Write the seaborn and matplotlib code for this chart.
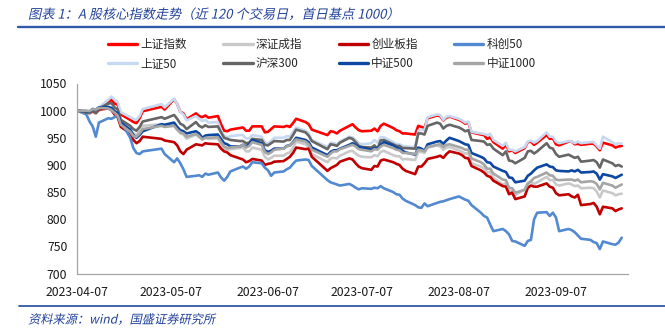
import matplotlib
matplotlib.use("Agg")
import matplotlib.pyplot as plt
import matplotlib.dates as mdates
from matplotlib.lines import Line2D
from matplotlib.patheffects import AbstractPathEffect
from matplotlib.transforms import Affine2D
import numpy as np
import pandas as pd
import seaborn as sns

# ---- data: index levels rebased to 1000 on the first trading day ----
holidays = ["2023-05-01", "2023-05-02", "2023-05-03", "2023-06-22", "2023-06-23"]
trade_days = pd.bdate_range("2023-04-07", "2023-09-28")
trade_days = trade_days[~trade_days.isin(pd.to_datetime(holidays))]

sh_index = [
    1000, 997, 995, 999, 995, 1003, 1016, 1020, 1013, 1011, 993, 983, 979, 977, 986, 999,
    1007, 1002, 1021, 1012, 998, 995, 984, 995, 990, 988, 991, 987, 990, 975, 963, 962, 965, 968, 969, 963,
    963, 971, 971, 960, 961, 966, 971, 970, 972, 970, 977, 985, 979, 975, 965, 955, 962, 961, 958, 963,
    972, 975, 969, 964, 962, 963, 967, 962, 972, 976, 968, 964, 962, 958, 958, 956, 972, 970, 968, 986, 991,
    990, 982, 987, 989, 983, 980, 976, 978, 960, 956, 955, 948, 951, 942, 930, 938, 925, 927, 922, 931, 942, 943, 937,
    941, 955, 948, 949, 938, 936, 943, 943, 938, 939, 937, 939, 939, 934, 927, 941, 936, 932, 934, 935,
]
sz_component = [
    1000, 997, 995, 998, 994, 1000, 1006, 1004, 997, 993, 976, 963, 958, 956, 962, 972,
    975, 971, 974, 966, 958, 956, 948, 956, 951, 947, 950, 948, 949, 939, 930, 928, 929, 931, 932, 925,
    925, 932, 928, 915, 910, 913, 917, 917, 921, 923, 932, 943, 938, 933, 920, 905, 912, 913, 912, 917,
    925, 926, 921, 917, 915, 914, 918, 916, 924, 926, 918, 916, 916, 910, 911, 909, 924, 924, 922, 932, 936,
    934, 928, 932, 933, 927, 924, 921, 922, 903, 897, 894, 886, 887, 876, 864, 866, 851, 852, 845, 855, 867, 869, 865,
    868, 878, 872, 872, 864, 862, 866, 864, 861, 862, 857, 858, 857, 851, 840, 853, 848, 844, 846, 847,
]
chinext = [
    1000, 998, 996, 999, 996, 1002, 1004, 1001, 993, 988, 970, 958, 946, 940, 944, 952,
    948, 945, 942, 936, 925, 920, 928, 938, 937, 936, 940, 939, 938, 930, 925, 923, 918, 912, 910, 905,
    907, 911, 908, 900, 902, 903, 906, 907, 911, 915, 922, 932, 929, 930, 915, 889, 894, 897, 900, 906,
    912, 910, 903, 897, 894, 891, 898, 897, 908, 910, 905, 902, 900, 893, 889, 883, 897, 897, 903, 911, 915,
    917, 913, 920, 925, 921, 918, 913, 912, 898, 890, 886, 880, 878, 871, 861, 860, 846, 849, 837, 842, 858, 862, 860,
    860, 866, 860, 858, 848, 844, 846, 842, 840, 845, 826, 828, 830, 823, 809, 823, 820, 815, 818, 820,
]
star50 = [
    1000, 993, 980, 971, 952, 978, 986, 985, 988, 992, 980, 950, 931, 922, 920, 925,
    930, 920, 905, 912, 903, 892, 878, 880, 881, 878, 884, 882, 886, 877, 871, 878, 888, 895, 897, 893,
    897, 905, 903, 895, 890, 880, 886, 888, 892, 895, 902, 908, 910, 909, 898, 872, 868, 866, 864, 862,
    865, 862, 858, 855, 857, 856, 858, 857, 861, 857, 850, 846, 845, 838, 834, 826, 822, 821, 829, 824, 830,
    832, 833, 835, 837, 842, 839, 836, 834, 826, 812, 806, 803, 790, 778, 782, 778, 772, 760, 759, 751, 760, 762, 800,
    812, 813, 806, 812, 803, 778, 782, 780, 776, 770, 764, 762, 758, 756, 745, 759, 754, 753, 757, 766,
]
sse50 = [
    1000, 996, 996, 1002, 998, 1006, 1020, 1026, 1020, 1016, 997, 988, 985, 983, 990, 1003,
    1012, 1006, 1022, 1012, 998, 993, 982, 990, 985, 981, 983, 978, 979, 964, 953, 951, 953, 955, 955, 949,
    949, 955, 952, 942, 939, 944, 950, 950, 953, 952, 961, 969, 963, 958, 946, 933, 941, 940, 938, 943,
    952, 951, 946, 940, 938, 940, 946, 941, 951, 951, 942, 939, 938, 935, 934, 933, 963, 965, 964, 988, 993,
    992, 983, 989, 990, 985, 982, 978, 980, 961, 958, 957, 955, 957, 946, 935, 941, 928, 928, 925, 933, 943, 945, 941,
    944, 960, 952, 952, 943, 940, 944, 943, 940, 943, 940, 942, 942, 936, 930, 952, 942, 938, 940, 939,
]
csi300 = [
    1000, 996, 996, 1000, 996, 1004, 1013, 1014, 1006, 1002, 983, 972, 966, 963, 970, 980,
    988, 985, 992, 985, 976, 973, 966, 979, 972, 969, 973, 970, 971, 960, 950, 948, 946, 944, 944, 940,
    941, 948, 946, 937, 936, 940, 944, 943, 946, 946, 955, 965, 960, 954, 944, 929, 938, 937, 935, 941,
    950, 948, 942, 935, 933, 932, 936, 930, 945, 946, 938, 935, 935, 931, 931, 930, 958, 958, 956, 972, 978,
    976, 967, 972, 974, 969, 966, 962, 964, 946, 944, 943, 937, 938, 930, 918, 925, 908, 907, 903, 913, 925, 926, 921,
    925, 940, 932, 930, 920, 915, 919, 916, 913, 915, 906, 908, 909, 905, 895, 910, 903, 898, 900, 897,
]
csi500 = [
    1000, 999, 998, 1003, 1002, 1006, 1007, 1005, 999, 995, 978, 965, 955, 950, 955, 962,
    975, 974, 978, 970, 964, 962, 958, 962, 958, 950, 954, 955, 956, 948, 940, 938, 934, 934, 937, 934,
    938, 946, 940, 927, 924, 926, 930, 930, 935, 936, 942, 950, 946, 942, 932, 918, 924, 927, 927, 930,
    937, 940, 937, 933, 932, 928, 931, 930, 937, 942, 936, 932, 930, 926, 923, 919, 932, 930, 926, 938, 943,
    944, 939, 945, 950, 944, 941, 938, 937, 922, 915, 912, 905, 904, 897, 889, 887, 877, 876, 868, 871, 880, 884, 890,
    895, 901, 897, 896, 890, 889, 888, 890, 888, 891, 886, 887, 888, 884, 873, 883, 879, 876, 879, 882,
]
csi1000 = [
    1000, 1000, 999, 1003, 1002, 1005, 1004, 1001, 996, 991, 974, 961, 953, 952, 958, 966,
    972, 970, 972, 965, 960, 958, 952, 957, 953, 947, 950, 950, 951, 942, 934, 931, 932, 934, 937, 932,
    935, 942, 937, 924, 920, 923, 928, 930, 934, 936, 941, 947, 943, 938, 928, 915, 921, 925, 925, 929,
    935, 937, 934, 929, 928, 925, 929, 928, 934, 937, 931, 928, 927, 922, 922, 920, 928, 927, 925, 933, 937,
    938, 933, 937, 938, 933, 931, 928, 928, 912, 905, 901, 893, 893, 884, 873, 872, 858, 857, 849, 854, 865, 870, 876,
    878, 886, 881, 880, 873, 872, 873, 873, 871, 873, 868, 870, 869, 865, 855, 867, 862, 858, 861, 864,
]

series_names = ["上证指数", "深证成指", "创业板指", "科创50", "上证50", "沪深300", "中证500", "中证1000"]
series_values = [sh_index, sz_component, chinext, star50, sse50, csi300, csi500, csi1000]
series_colors = ["#FF0000", "#C9C9C9", "#C00000", "#5289D0", "#C6D9F0", "#666666", "#0D47A1", "#A5A5A5"]

title_text = "图表 1：A 股核心指数走势（近 120 个交易日，首日基点 1000）"
source_text = "资料来源：wind，国盛证券研究所"
y_ticks = [700, 750, 800, 850, 900, 950, 1000, 1050]

wide = pd.DataFrame({"date": trade_days})
for name, vals in zip(series_names, series_values):
    wide[name] = vals
long = wide.melt(id_vars="date", var_name="指数", value_name="点位")


class Slant(AbstractPathEffect):
    """Shear glyph outlines to give CJK text an oblique look."""

    def __init__(self, shear=0.2):
        super().__init__()
        self._shear = shear

    def draw_path(self, renderer, gc, tpath, affine, rgbFace=None):
        shear = Affine2D(np.array([[1.0, self._shear, 0.0], [0.0, 1.0, 0.0], [0.0, 0.0, 1.0]]))
        renderer.draw_path(gc, tpath, shear + affine, rgbFace)


sns.set_style("white")
plt.rcParams["font.family"] = ["Noto Sans CJK SC", "DejaVu Sans"]
plt.rcParams["axes.unicode_minus"] = False

W, H = 665, 330
fig = plt.figure(figsize=(W / 100, H / 100), dpi=100)
ax = fig.add_axes([77 / W, 1 - 273.5 / H, (628 - 77) / W, (273.5 - 83.5) / H])

sns.lineplot(
    data=long, x="date", y="点位", hue="指数", hue_order=series_names,
    palette=series_colors, linewidth=1.9, estimator=None, ax=ax,
)
for ln in ax.get_lines():
    ln.set_solid_joinstyle("round")

handles, labels = ax.get_legend_handles_labels()
ax.get_legend().remove()
# matplotlib fills legend columns first; interleave so rows read across
order = [0, 4, 1, 5, 2, 6, 3, 7]
handles = [handles[i] for i in order]
labels = [labels[i] for i in order]
leg = fig.legend(
    handles, labels, ncol=4, loc="upper left", bbox_to_anchor=(108 / W, 1 - 38 / H),
    frameon=False, fontsize=8.4, handlelength=2.5, handletextpad=0.3,
    columnspacing=3.1, labelspacing=0.5, borderpad=0, borderaxespad=0,
)
for h in leg.legend_handles:
    h.set_linewidth(2.4)

ax.set_ylim(700, 1050)
ax.set_yticks(y_ticks)
ax.set_xlim(pd.Timestamp("2023-04-07"), pd.Timestamp("2023-09-30"))
ax.xaxis.set_major_locator(mdates.MonthLocator(bymonthday=7))
ax.xaxis.set_major_formatter(mdates.DateFormatter("%Y-%m-%d"))
ax.set_xlabel("")
ax.set_ylabel("")
ax.grid(False)
for side in ("top", "right"):
    ax.spines[side].set_visible(False)
for side in ("left", "bottom"):
    ax.spines[side].set_color("#A6A6A6")
    ax.spines[side].set_linewidth(0.9)
ax.tick_params(axis="y", direction="out", length=4, width=0.8, color="#A6A6A6",
               labelsize=8.8, labelcolor="#1A1A1A", pad=3)
ax.tick_params(axis="x", direction="in", length=4, width=0.8, color="#A6A6A6",
               labelsize=8.8, labelcolor="#1A1A1A", pad=9)

navy = "#23439A"
rule = "#2F5AA6"
fig.text(28 / W, 1 - 15 / H, title_text, ha="left", va="center", fontsize=9.5,
         color=navy, path_effects=[Slant(0.22)])
fig.add_artist(Line2D([18 / W, 1.0], [1 - 27 / H] * 2, color=rule, lw=1.7))
fig.add_artist(Line2D([19 / W, 1.0], [1 - 306 / H] * 2, color=rule, lw=1.3))
fig.text(28 / W, 1 - 320 / H, source_text, ha="left", va="center", fontsize=8.8,
         color=navy, path_effects=[Slant(0.22)])

fig.savefig("out.png", dpi=100)
